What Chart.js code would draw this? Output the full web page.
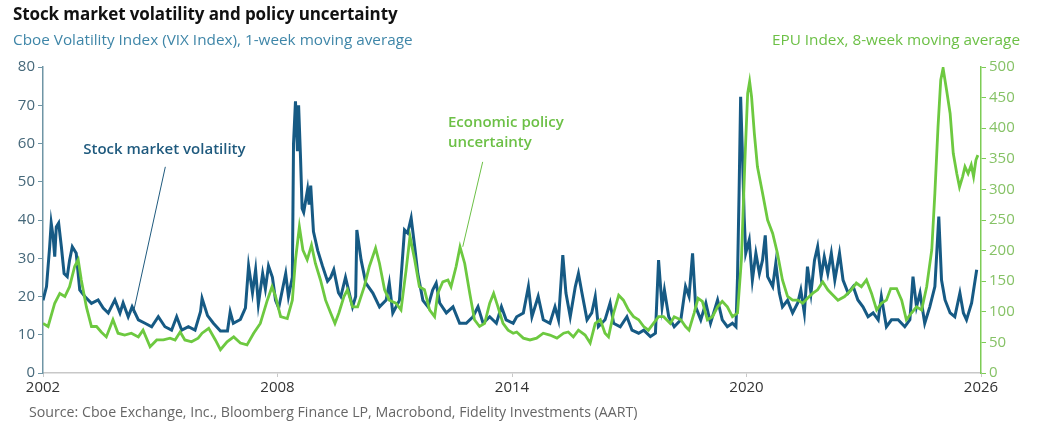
<!DOCTYPE html>
<html>
<head>
<meta charset="utf-8">
<script src="https://cdn.jsdelivr.net/npm/chart.js@4/dist/chart.umd.min.js"></script>
<style>
    body { margin: 0; background: #fff; font-family: 'Open Sans', sans-serif; }
    #wrap { position: relative; width: 1038px; height: 428px; }
    #chart { position: absolute; left: 0; top: 0; }
    .title { position: absolute; left: 13px; top: 2px; font-size: 17px; font-weight: 700; color: #111; letter-spacing: -0.1px; }
    .subLeft { position: absolute; left: 13px; top: 29px; font-size: 15.3px; color: #3f86a8; }
    .subRight { position: absolute; right: 18px; top: 29px; font-size: 15.3px; color: #6cc046; }
    .source { position: absolute; left: 29px; top: 402px; font-size: 14.2px; color: #666; }
</style>
</head>
<body>
<div id="wrap">
    <canvas id="chart" width="1038" height="428"></canvas>
    <div class="title">Stock market volatility and policy uncertainty</div>
    <div class="subLeft">Cboe Volatility Index (VIX Index), 1-week moving average</div>
    <div class="subRight">EPU Index, 8-week moving average</div>
    <div class="source">Source: Cboe Exchange, Inc., Bloomberg Finance LP, Macrobond, Fidelity Investments (AART)</div>
</div>
<script>
// VIX, 1-week moving average (decimal years)
const vixYears = [
    2002.00, 2002.09, 2002.17, 2002.21, 2002.26, 2002.30, 2002.34, 2002.40, 2002.47, 2002.54,
    2002.62, 2002.68, 2002.75, 2002.85, 2002.94, 2003.07, 2003.24, 2003.41, 2003.54, 2003.67,
    2003.84, 2003.97, 2004.05, 2004.18, 2004.28, 2004.44, 2004.61, 2004.78, 2004.95, 2005.12,
    2005.29, 2005.42, 2005.55, 2005.72, 2005.89, 2006.03, 2006.07, 2006.21, 2006.36, 2006.54,
    2006.72, 2006.79, 2006.87, 2007.05, 2007.18, 2007.26, 2007.36, 2007.44, 2007.51, 2007.62,
    2007.69, 2007.77, 2007.87, 2007.95, 2008.03, 2008.13, 2008.21, 2008.28, 2008.38, 2008.41,
    2008.46, 2008.51, 2008.54, 2008.59, 2008.63, 2008.67, 2008.77, 2008.81, 2008.85, 2008.92,
    2009.03, 2009.15, 2009.28, 2009.36, 2009.44, 2009.56, 2009.62, 2009.74, 2009.92, 2010.00,
    2010.03, 2010.14, 2010.26, 2010.44, 2010.61, 2010.78, 2010.86, 2010.95, 2011.12, 2011.25,
    2011.33, 2011.42, 2011.51, 2011.59, 2011.72, 2011.85, 2011.97, 2012.06, 2012.15, 2012.32,
    2012.49, 2012.66, 2012.83, 2013.00, 2013.13, 2013.26, 2013.43, 2013.60, 2013.73, 2013.85,
    2014.03, 2014.12, 2014.29, 2014.42, 2014.51, 2014.67, 2014.80, 2014.97, 2015.10, 2015.19,
    2015.30, 2015.38, 2015.49, 2015.62, 2015.70, 2015.79, 2015.92, 2016.04, 2016.13, 2016.21,
    2016.38, 2016.51, 2016.60, 2016.77, 2016.94, 2017.07, 2017.24, 2017.37, 2017.54, 2017.67,
    2017.75, 2017.84, 2017.90, 2018.01, 2018.15, 2018.32, 2018.44, 2018.53, 2018.62, 2018.70,
    2018.83, 2018.96, 2019.08, 2019.26, 2019.38, 2019.51, 2019.64, 2019.73, 2019.77, 2019.81,
    2019.85, 2019.90, 2019.94, 2019.98, 2020.07, 2020.15, 2020.24, 2020.33, 2020.41, 2020.48,
    2020.54, 2020.67, 2020.75, 2020.84, 2020.92, 2021.05, 2021.18, 2021.31, 2021.39, 2021.48,
    2021.56, 2021.65, 2021.74, 2021.82, 2021.91, 2021.99, 2022.08, 2022.17, 2022.26, 2022.38,
    2022.47, 2022.60, 2022.73, 2022.85, 2022.98, 2023.11, 2023.24, 2023.37, 2023.45, 2023.58,
    2023.71, 2023.88, 2024.05, 2024.18, 2024.26, 2024.35, 2024.44, 2024.56, 2024.69, 2024.82,
    2024.92, 2024.99, 2025.08, 2025.21, 2025.33, 2025.46, 2025.55, 2025.63, 2025.76, 2025.89
];
const vixValues = [
    19.0, 22.6, 33.0, 39.2, 35.6, 30.4, 38.2, 39.2, 33.0, 26.0,
    25.2, 29.5, 33.0, 31.3, 21.7, 20.0, 18.2, 19.1, 17.0, 15.7,
    19.1, 15.7, 18.3, 14.7, 17.3, 13.9, 13.0, 12.1, 14.7, 12.1,
    11.2, 14.7, 11.2, 12.1, 11.2, 16.0, 19.5, 15.0, 13.0, 11.0,
    11.0, 16.0, 13.0, 14.0, 17.0, 28.0, 21.0, 27.0, 18.0, 26.0,
    22.0, 28.0, 25.0, 19.0, 17.0, 22.0, 26.0, 20.0, 25.0, 60.0,
    71.0, 58.0, 70.0, 56.0, 43.0, 42.0, 48.0, 44.0, 49.0, 37.0,
    32.0, 28.0, 24.0, 25.0, 27.0, 21.0, 20.0, 25.0, 17.3, 20.0,
    37.4, 29.5, 23.5, 20.9, 17.3, 19.1, 23.5, 15.7, 19.0, 37.4,
    36.6, 40.5, 33.0, 26.0, 19.0, 17.3, 21.7, 23.5, 18.3, 15.7,
    17.3, 13.0, 13.0, 14.7, 17.3, 13.0, 14.7, 13.0, 17.3, 13.9,
    13.0, 14.7, 15.7, 22.6, 14.7, 20.0, 13.9, 13.0, 17.3, 13.9,
    30.8, 20.9, 14.7, 22.6, 26.0, 20.9, 13.9, 15.7, 20.0, 12.1,
    13.9, 18.3, 13.0, 12.1, 14.7, 11.2, 10.4, 11.2, 9.5, 10.4,
    29.5, 17.3, 21.7, 14.7, 12.1, 13.9, 22.6, 20.0, 31.3, 17.3,
    13.9, 18.3, 13.0, 19.1, 13.9, 12.1, 13.0, 12.1, 25.0, 47.0,
    72.2, 55.7, 40.9, 31.3, 34.8, 24.3, 31.3, 26.0, 29.5, 36.0,
    25.2, 22.6, 28.7, 20.9, 17.3, 19.0, 15.7, 18.3, 21.7, 15.7,
    27.8, 20.9, 29.5, 33.0, 25.2, 30.4, 26.0, 31.3, 24.3, 31.3,
    24.3, 20.9, 22.6, 19.1, 17.3, 14.7, 15.7, 13.9, 20.0, 12.1,
    13.9, 13.9, 12.1, 13.9, 25.2, 17.3, 20.9, 13.0, 17.3, 22.6,
    40.9, 24.3, 19.1, 15.7, 14.7, 20.9, 15.7, 13.9, 18.3, 27.0
];

// EPU index, 8-week moving average (right axis)
const epuYears = [
    2002.00, 2002.13, 2002.30, 2002.43, 2002.56, 2002.68, 2002.81, 2002.90, 2002.98, 2003.11,
    2003.24, 2003.37, 2003.49, 2003.62, 2003.79, 2003.92, 2004.09, 2004.26, 2004.44, 2004.56,
    2004.74, 2004.91, 2005.08, 2005.25, 2005.38, 2005.51, 2005.63, 2005.80, 2005.97, 2006.07,
    2006.24, 2006.41, 2006.54, 2006.71, 2006.88, 2007.05, 2007.22, 2007.39, 2007.56, 2007.74,
    2007.86, 2007.95, 2008.08, 2008.25, 2008.38, 2008.46, 2008.56, 2008.65, 2008.76, 2008.87,
    2008.97, 2009.10, 2009.23, 2009.36, 2009.47, 2009.57, 2009.70, 2009.79, 2009.92, 2010.05,
    2010.22, 2010.35, 2010.51, 2010.61, 2010.74, 2010.86, 2011.03, 2011.16, 2011.29, 2011.39,
    2011.51, 2011.63, 2011.76, 2011.89, 2012.02, 2012.10, 2012.23, 2012.36, 2012.44, 2012.57,
    2012.67, 2012.79, 2012.92, 2013.04, 2013.17, 2013.30, 2013.43, 2013.53, 2013.64, 2013.77,
    2013.90, 2014.03, 2014.12, 2014.29, 2014.46, 2014.63, 2014.80, 2014.97, 2015.15, 2015.32,
    2015.44, 2015.57, 2015.70, 2015.87, 2016.00, 2016.13, 2016.26, 2016.38, 2016.47, 2016.60,
    2016.73, 2016.85, 2016.98, 2017.11, 2017.24, 2017.37, 2017.49, 2017.62, 2017.75, 2017.88,
    2018.05, 2018.15, 2018.32, 2018.44, 2018.53, 2018.66, 2018.76, 2018.87, 2019.00, 2019.13,
    2019.26, 2019.38, 2019.51, 2019.64, 2019.77, 2019.87, 2019.96, 2020.03, 2020.08, 2020.13,
    2020.20, 2020.28, 2020.41, 2020.54, 2020.67, 2020.79, 2020.92, 2021.05, 2021.18, 2021.31,
    2021.44, 2021.56, 2021.69, 2021.82, 2021.95, 2022.08, 2022.17, 2022.34, 2022.51, 2022.68,
    2022.81, 2022.94, 2023.07, 2023.20, 2023.33, 2023.45, 2023.58, 2023.69, 2023.84, 2023.97,
    2024.09, 2024.22, 2024.35, 2024.48, 2024.61, 2024.74, 2024.82, 2024.90, 2024.97, 2025.03,
    2025.12, 2025.21, 2025.29, 2025.38, 2025.45, 2025.53, 2025.59, 2025.67, 2025.75, 2025.81,
    2025.87, 2025.92
];
const epuValues = [
    81, 76, 114, 130, 125, 141, 174, 185, 152, 108,
    76, 76, 67, 59, 87, 65, 62, 65, 59, 70,
    43, 54, 54, 57, 54, 67, 54, 51, 57, 65,
    73, 54, 38, 51, 59, 49, 46, 65, 81, 119,
    141, 125, 92, 89, 119, 185, 239, 201, 185, 209,
    179, 152, 119, 98, 81, 98, 125, 136, 108, 108,
    141, 174, 204, 179, 136, 119, 114, 103, 168, 223,
    185, 141, 136, 103, 92, 130, 149, 152, 141, 174,
    206, 179, 130, 87, 76, 81, 114, 130, 108, 81,
    70, 65, 67, 57, 54, 57, 65, 62, 57, 65,
    67, 59, 70, 62, 49, 81, 87, 65, 59, 98,
    127, 119, 103, 92, 87, 76, 70, 81, 92, 92,
    81, 92, 87, 76, 70, 98, 122, 117, 87, 92,
    108, 117, 108, 92, 98, 185, 348, 457, 476, 451,
    392, 337, 294, 250, 228, 196, 152, 125, 119, 119,
    114, 122, 130, 136, 149, 136, 130, 119, 125, 136,
    147, 141, 152, 130, 103, 114, 119, 138, 138, 119,
    87, 98, 108, 103, 141, 201, 294, 402, 479, 498,
    462, 424, 359, 326, 304, 321, 337, 326, 340, 321,
    348, 356
];

// axis ticks
const yearTicks = [2002, 2008, 2014, 2020, 2026];
const vixTicks = [0, 10, 20, 30, 40, 50, 60, 70, 80];
const epuTicks = [0, 50, 100, 150, 200, 250, 300, 350, 400, 450, 500];

// annotation labels: text lines, label position (year, VIX level), leader line from/to (year, VIX level)
const vixLabel = { lines: ['Stock market volatility'], x: 2003.03, y: 58.3, from: [2005.13, 53.9], to: [2004.31, 15.7] };
const epuLabel = { lines: ['Economic policy', 'uncertainty'], x: 2012.36, y: 65.5, from: [2013.25, 55.2], to: [2012.74, 33.0] };

const VIX_COLOR = '#165a84';
const EPU_COLOR = '#6dc940';

function toPoints(xs, ys) {
    return xs.map((x, i) => ({ x: x, y: ys[i] }));
}

// draws the two call-out labels with their leader lines
const calloutPlugin = {
    id: 'callouts',
    afterDatasetsDraw(chart) {
        const ctx = chart.ctx;
        const xs = chart.scales.x;
        const ys = chart.scales.y;
        const items = [
            { def: vixLabel, color: '#1f5a7e' },
            { def: epuLabel, color: '#6cc046' }
        ];
        ctx.save();
        items.forEach(item => {
            const d = item.def;
            ctx.strokeStyle = item.color;
            ctx.lineWidth = 1;
            ctx.beginPath();
            ctx.moveTo(xs.getPixelForValue(d.from[0]), ys.getPixelForValue(d.from[1]));
            ctx.lineTo(xs.getPixelForValue(d.to[0]), ys.getPixelForValue(d.to[1]));
            ctx.stroke();
            ctx.fillStyle = item.color;
            ctx.font = '600 15px "Open Sans"';
            ctx.textBaseline = 'middle';
            ctx.textAlign = 'left';
            d.lines.forEach((line, i) => {
                ctx.fillText(line, xs.getPixelForValue(d.x), ys.getPixelForValue(d.y) + i * 20);
            });
        });
        ctx.restore();
    }
};

new Chart(document.getElementById('chart'), {
    type: 'line',
    data: {
        datasets: [
            {
                label: 'EPU',
                data: toPoints(epuYears, epuValues),
                yAxisID: 'y2',
                borderColor: EPU_COLOR,
                borderWidth: 2.8,
                pointRadius: 0,
                tension: 0
            },
            {
                label: 'VIX',
                data: toPoints(vixYears, vixValues),
                yAxisID: 'y',
                borderColor: VIX_COLOR,
                borderWidth: 3,
                pointRadius: 0,
                tension: 0
            }
        ]
    },
    options: {
        responsive: false,
        animation: false,
        layout: { padding: { top: 67, left: 0, right: 0, bottom: 0 } },
        plugins: {
            legend: { display: false },
            tooltip: { enabled: false }
        },
        scales: {
            x: {
                type: 'linear',
                min: 2002,
                max: 2026,
                afterBuildTicks: s => { s.ticks = yearTicks.map(v => ({ value: v })); },
                afterFit: s => { s.height = 55; },
                grid: { drawOnChartArea: false, tickLength: 4, color: '#c8c8c8' },
                border: { color: '#c8c8c8', width: 1.5 },
                ticks: {
                    color: '#333',
                    font: { family: 'Open Sans', size: 15 },
                    padding: 2,
                    maxRotation: 0,
                    callback: v => String(v)
                }
            },
            y: {
                position: 'left',
                min: 0,
                max: 80,
                afterBuildTicks: s => { s.ticks = vixTicks.map(v => ({ value: v })); },
                afterFit: s => { s.width = 43; },
                grid: { drawOnChartArea: false, tickLength: 5, color: '#6f95a5' },
                border: { color: '#6f95a5', width: 1.5 },
                ticks: {
                    color: '#46687a',
                    font: { family: 'Open Sans', size: 15 },
                    padding: 3
                }
            },
            y2: {
                position: 'right',
                min: 0,
                max: 500,
                afterBuildTicks: s => { s.ticks = epuTicks.map(v => ({ value: v })); },
                afterFit: s => { s.width = 57; },
                grid: { drawOnChartArea: false, tickLength: 5, color: '#7dcc55' },
                border: { color: '#7dcc55', width: 1.5 },
                ticks: {
                    color: '#86c266',
                    font: { family: 'Open Sans', size: 15 },
                    padding: 3
                }
            }
        }
    },
    plugins: [calloutPlugin]
});
</script>
</body>
</html>
